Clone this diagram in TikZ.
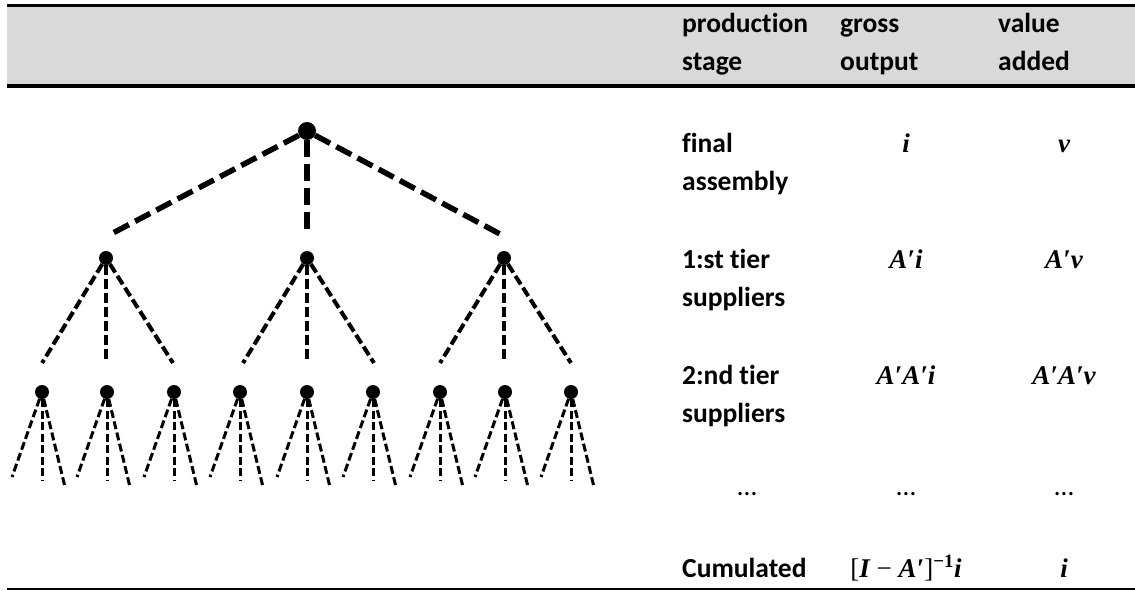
\documentclass[tikz,border=0pt]{standalone}
\usepackage{fontspec}
\setmainfont{Carlito}[Ligatures={NoCommon}]
\newfontfamily\eqfont{Liberation Serif}
\definecolor{headgray}{HTML}{D9D9D9}
\newcommand{\up}[1]{{\upshape\mdseries #1}}

\tikzset{
  rootdot/.style={circle, fill=black, inner sep=0pt, minimum size=18pt},
  tierdot/.style={circle, fill=black, inner sep=0pt, minimum size=14pt},
  rootlink/.style={line width=5.5pt, dash pattern=on 17pt off 7pt},
  tierlink/.style={line width=4pt, dash pattern=on 10pt off 4pt},
  leaflink/.style={line width=3pt, dash pattern=on 8pt off 3.5pt},
  cell/.style={anchor=base west, align=left, inner sep=0pt,
    font=\bfseries\fontsize{27.5}{38}\selectfont},
  dotcell/.style={anchor=base, inner sep=0pt, font=\fontsize{27.5}{38}\selectfont},
  mcell/.style={anchor=base, inner sep=0pt,
    font=\eqfont\bfseries\itshape\fontsize{27}{30}\selectfont}
}

\begin{document}
\begin{tikzpicture}[x=1pt, y=-1pt]
      \useasboundingbox (0,0) rectangle (1135,590);
      % header band and rules
      \fill[headgray] (7,5.5) rectangle (1135,86);
      \draw[line width=3.5pt] (7,5.5) -- (1135,5.5);
      \draw[line width=3.7pt] (7,86) -- (1135,86);
      \draw[line width=1.3pt] (7,589) -- (1135,589);

      % two-line cells sit on the baseline of their last line
      \node[cell] (hstage) at (682,70) {production\\stage};
      \node[cell] (hgross) at (840,70) {gross\\output};
      \node[cell] (hvalue) at (998,70) {value\\added};

      \node[cell] (final) at (682,190) {final\\assembly};
      \node[cell] (tier1) at (682,306) {1:st tier\\suppliers};
      \node[cell] (tier2) at (682,422) {2:nd tier\\suppliers};
      \node[dotcell] (dots1) at (747,495) {…};
      \node[cell] (cumul) at (682,577) {Cumulated};

      \node[mcell] (gfinal) at (906,152) {i};
      \node[mcell] (gtier1) at (906,268) {A′i};
      \node[mcell] (gtier2) at (906,384) {A′A′i};
      \node[dotcell] (dots2) at (906,495) {…};
      \node[mcell] (gcumul) at (906,577) {\up{[}I \up{−} A′\up{]}\textsuperscript{\upshape −1}i};

      \node[mcell] (vfinal) at (1064,152) {v};
      \node[mcell] (vtier1) at (1064,268) {A′v};
      \node[mcell] (vtier2) at (1064,384) {A′A′v};
      \node[dotcell] (dots3) at (1064,495) {…};
      \node[mcell] (vcumul) at (1064,577) {i};

      % supply tree
      \node[rootdot] (root) at (307,131) {};
      \node[tierdot] (s1) at (106,258) {};
      \node[tierdot] (s2) at (307,258) {};
      \node[tierdot] (s3) at (504,258) {};
      \coordinate (r1) at (111,234);
      \coordinate (r2) at (307,234);
      \coordinate (r3) at (500,234);
      \draw[rootlink] (root) -- (r1);
      \draw[rootlink] (root) -- (r2);
      \draw[rootlink] (root) -- (r3);

      \foreach \s in {s1,s2,s3} {
        \path (\s) ++(-64,105) coordinate (\s-l) (\s) ++(0,105) coordinate (\s-m)
              (\s) ++(67,105) coordinate (\s-r);
        \draw[tierlink] (\s) -- (\s-l);
        \draw[tierlink] (\s) -- (\s-m);
        \draw[tierlink] (\s) -- (\s-r);
      }

      \foreach \x [count=\k] in {42,107,174,240,307,373,440,505,571} {
        \node[tierdot] (t\k) at (\x,392) {};
        \path (t\k) ++(-30,85) coordinate (t\k-l) (t\k) ++(0,88) coordinate (t\k-m)
              (t\k) ++(23,95) coordinate (t\k-r);
        \draw[leaflink] (t\k) -- (t\k-l);
        \draw[leaflink] (t\k) -- (t\k-m);
        \draw[leaflink] (t\k) -- (t\k-r);
      }
\end{tikzpicture}
\end{document}
